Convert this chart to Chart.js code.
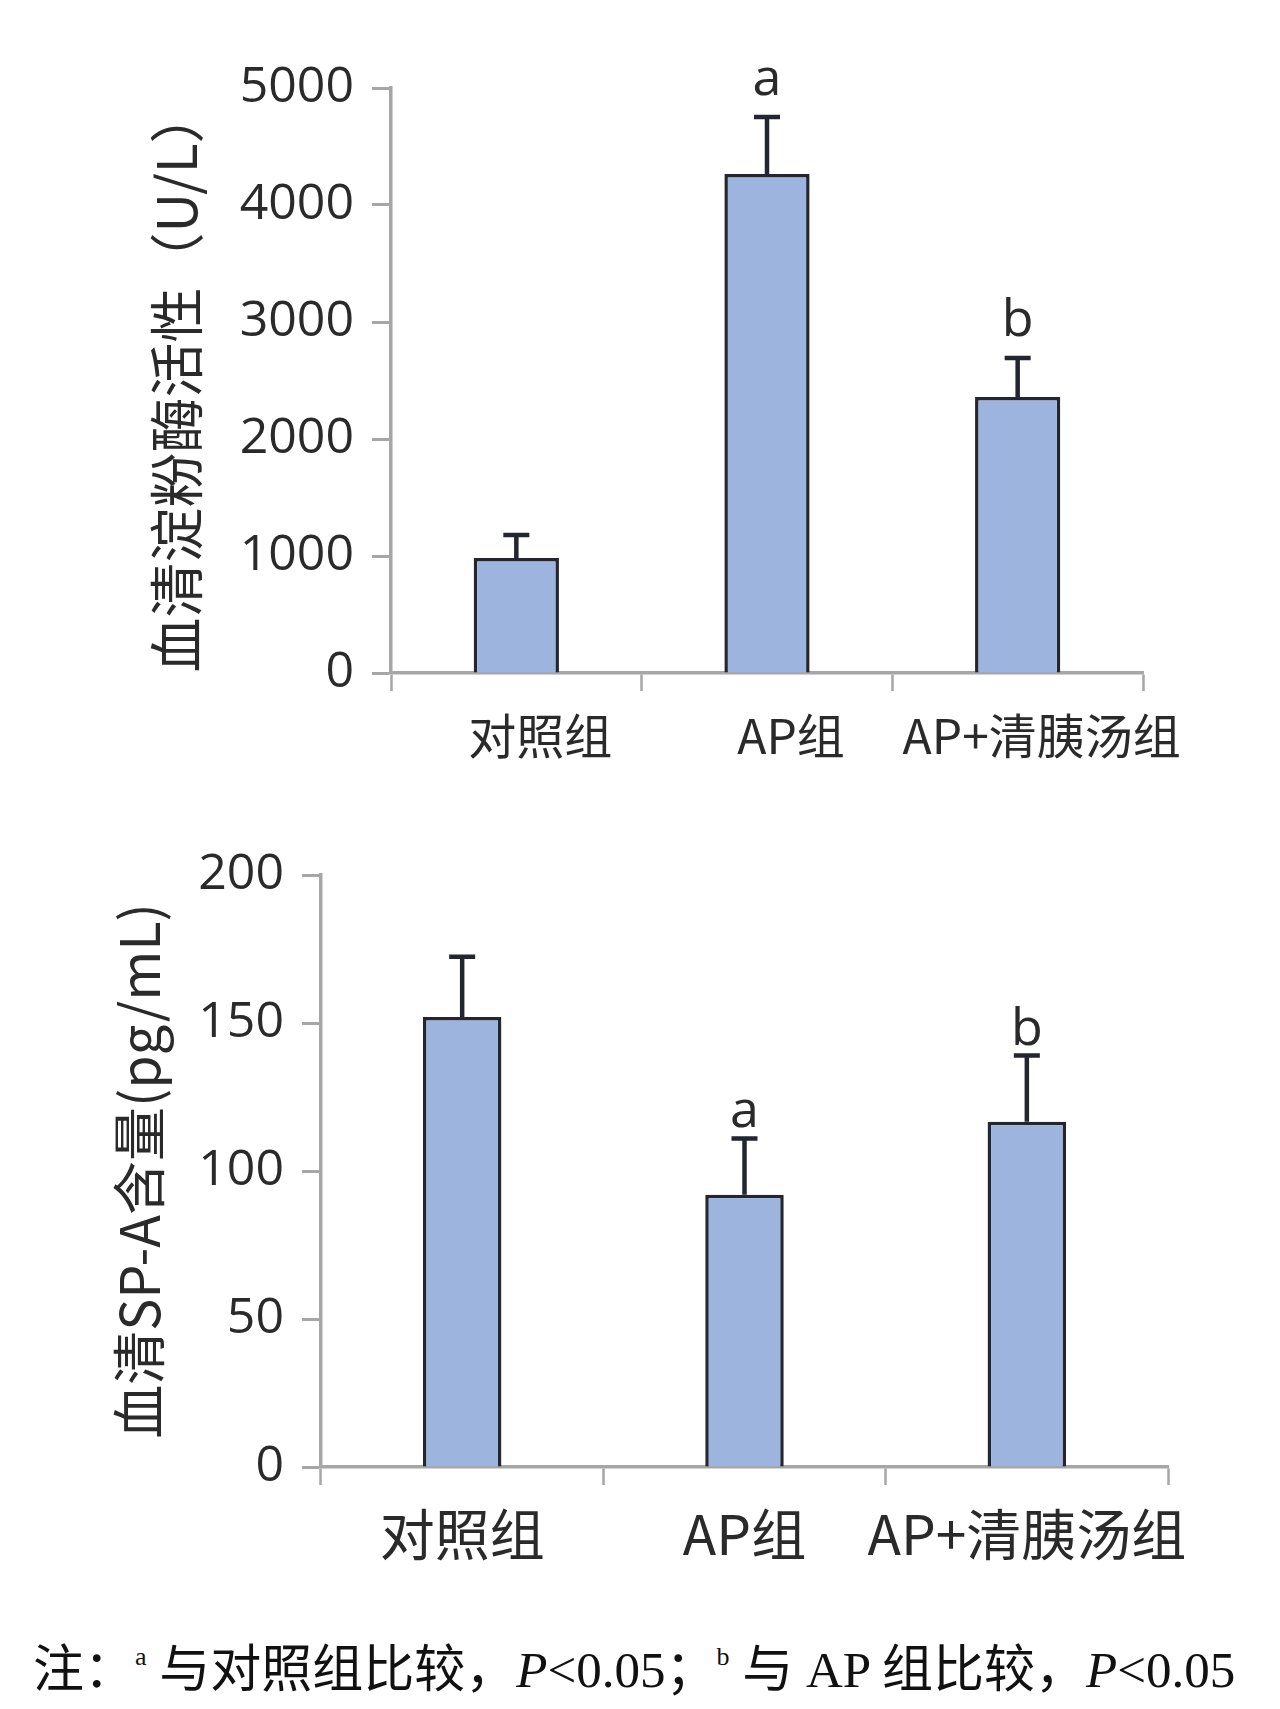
<!DOCTYPE html>
<html>
<head>
<meta charset="utf-8">
<script src="https://cdn.jsdelivr.net/npm/chart.js@4.4.1/dist/chart.umd.min.js"></script>
<style>
  body { margin: 0; background: #fff; width: 1280px; height: 1709px; position: relative; overflow: hidden; }
  canvas { position: absolute; left: 0; }
  #amylaseChart { top: 0; }
  #spaChart { top: 800px; }
  .note {
    position: absolute; left: 33px; top: 1628px; white-space: nowrap;
    font-family: "Liberation Serif", "Noto Sans CJK SC", serif; font-size: 51px; color: #111;
  }
  .note i { font-style: italic; }
  .note sup { font-size: 26px; vertical-align: 22px; }
</style>
</head>
<body>
<canvas id="amylaseChart" width="1280" height="800"></canvas>
<canvas id="spaChart" width="1280" height="800"></canvas>
<div class="note">注：<sup>a</sup> 与对照组比较，<i>P</i>&lt;0.05；<sup>b</sup> 与 AP 组比较，<i>P</i>&lt;0.05</div>

<script>
const groups = ['对照组', 'AP组', 'AP+清胰汤组'];

// serum amylase (U/L)
const amylaseMean = [983, 4265, 2359];
const amylaseSD = [197, 487, 333];
const amylaseMarks = ['', 'a', 'b'];

// serum SP-A (pg/mL)
const spaMean = [152, 92, 116.6];
const spaSD = [20.4, 19, 22.4];
const spaMarks = ['', 'a', 'b'];

const barFill = '#9cb4de';
const barEdge = '#23262f';
const axisGray = '#a6a6a6';
const textDark = '#2a2a2a';

// draws the upper error bar and the significance letter above it
const errorBars = {
    id: 'errorBars',
    afterDatasetsDraw(chart, args, opts) {
        const { ctx } = chart;
        const y = chart.scales.y;
        const meta = chart.getDatasetMeta(0);
        const mean = chart.data.datasets[0].data;
        ctx.save();
        ctx.strokeStyle = barEdge;
        ctx.lineWidth = opts.lineWidth;
        meta.data.forEach((bar, i) => {
            const top = y.getPixelForValue(mean[i]);
            const end = y.getPixelForValue(mean[i] + opts.sd[i]);
            ctx.beginPath();
            ctx.moveTo(bar.x, top);
            ctx.lineTo(bar.x, end);
            ctx.moveTo(bar.x - opts.cap, end);
            ctx.lineTo(bar.x + opts.cap, end);
            ctx.stroke();
            if (opts.marks[i]) {
                ctx.fillStyle = textDark;
                ctx.font = opts.markFont;
                ctx.textAlign = 'center';
                ctx.textBaseline = 'alphabetic';
                ctx.fillText(opts.marks[i], bar.x, end - opts.gap);
            }
        });
        ctx.restore();
    }
};

function makeChart(el, cfg) {
    return new Chart(el.getContext('2d'), {
        type: 'bar',
        data: {
            labels: groups,
            datasets: [{
                data: cfg.mean,
                backgroundColor: barFill,
                borderColor: barEdge,
                borderWidth: 3.5,
                borderSkipped: 'bottom',
                categoryPercentage: 1,
                barPercentage: cfg.barPct
            }]
        },
        options: {
            responsive: false,
            animation: false,
            devicePixelRatio: 1,
            layout: {
                padding: { left: 0, top: cfg.top, right: cfg.right, bottom: 0 }
            },
            plugins: {
                legend: { display: false },
                tooltip: { enabled: false },
                errorBars: {
                    sd: cfg.sd,
                    marks: cfg.marks,
                    gap: cfg.gap,
                    cap: 13,
                    lineWidth: 4.5,
                    markFont: '52px "Open Sans"'
                }
            },
            scales: {
                x: {
                    z: 1,
                    border: { color: axisGray, width: 3.5 },
                    grid: {
                        offset: true,
                        drawOnChartArea: false,
                        tickLength: 18,
                        tickColor: axisGray,
                        tickWidth: 2.5
                    },
                    ticks: {
                        color: textDark,
                        font: { family: '"Noto Sans CJK SC"', size: cfg.catSize },
                        padding: cfg.catPad,
                        labelOffset: cfg.labelOffset,
                        maxRotation: 0,
                        minRotation: 0,
                        autoSkip: false
                    },
                    afterFit(scale) {
                        scale.height = 800 - cfg.bottom;
                        scale.paddingLeft = 0;
                        scale.paddingRight = 0;
                    }
                },
                y: {
                    min: 0,
                    max: cfg.max,
                    border: { color: axisGray, width: 3.5 },
                    grid: {
                        drawOnChartArea: false,
                        tickLength: 19,
                        tickColor: axisGray,
                        tickWidth: 3
                    },
                    ticks: {
                        stepSize: cfg.step,
                        color: textDark,
                        font: { family: '"Open Sans"', size: 50 },
                        padding: 18,
                        callback: (v) => String(v)
                    },
                    title: {
                        display: true,
                        text: cfg.title,
                        color: textDark,
                        font: { family: '"Noto Sans CJK SC"', size: cfg.titleSize },
                        padding: { top: cfg.titlePad, bottom: 0 }
                    },
                    afterFit(scale) {
                        scale.width = cfg.left;
                        scale.paddingTop = 0;
                        scale.paddingBottom = 0;
                    }
                }
            }
        },
        plugins: [errorBars]
    });
}

makeChart(document.getElementById('amylaseChart'), {
    mean: amylaseMean, sd: amylaseSD, marks: amylaseMarks,
    title: '血清淀粉酶活性（U/L）',
    max: 5000, step: 1000,
    left: 391, right: 1280 - 1143, top: 88, bottom: 673,
    barPct: 0.34, catSize: 48, catPad: 16, labelOffset: 24,
    titleSize: 55, titlePad: 143, gap: 22
});

makeChart(document.getElementById('spaChart'), {
    mean: spaMean, sd: spaSD, marks: spaMarks,
    title: '血清SP-A含量(pg/mL)',
    max: 200, step: 50,
    left: 321, right: 1280 - 1168, top: 75, bottom: 667,
    barPct: 0.278, catSize: 55, catPad: 16, labelOffset: 0,
    titleSize: 54, titlePad: 107, gap: 11
});
</script>
</body>
</html>
